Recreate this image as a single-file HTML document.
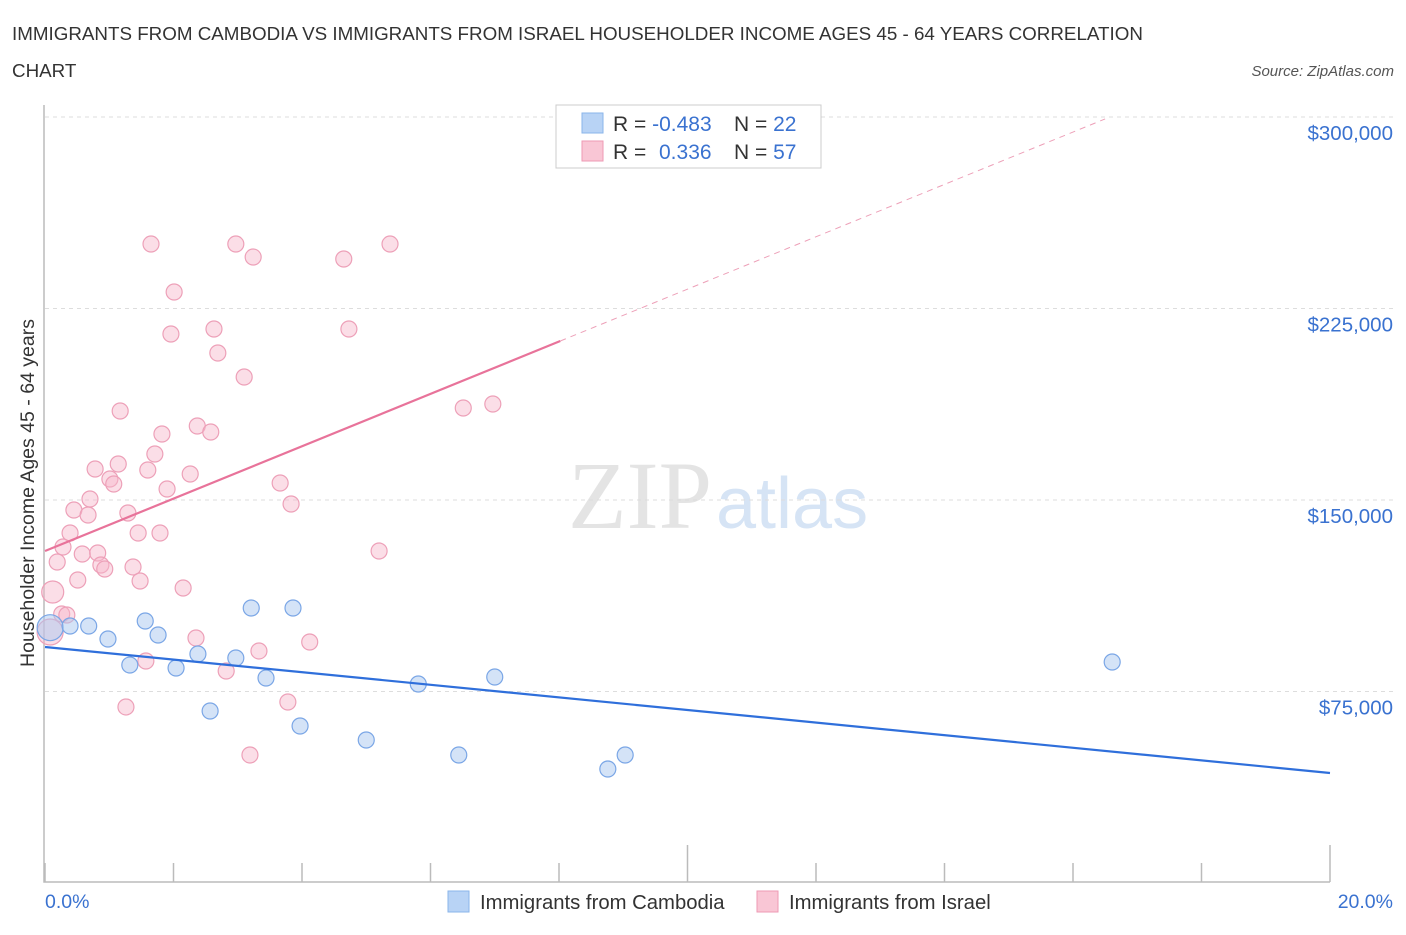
<!DOCTYPE html>
<html><head><meta charset="utf-8"><style>
body{margin:0;background:#fff;font-family:"Liberation Sans",sans-serif;}
svg text{font-family:"Liberation Sans",sans-serif;}
</style></head><body>
<svg id="c" width="1406" height="930" xmlns="http://www.w3.org/2000/svg">
<text x="12" y="40" font-size="18.8" fill="#333">IMMIGRANTS FROM CAMBODIA VS IMMIGRANTS FROM ISRAEL HOUSEHOLDER INCOME AGES 45 - 64 YEARS CORRELATION</text>
<text x="12" y="77" font-size="18.8" fill="#333">CHART</text>
<text x="1394" y="76" font-size="15" fill="#555" font-style="italic" text-anchor="end">Source: ZipAtlas.com</text>
<text x="712" y="528" font-size="96" fill="#e4e4e4" text-anchor="end" style="font-family:'Liberation Serif',serif">ZIP</text>
<text x="716" y="528" font-size="72" fill="#d6e4f5">atlas</text>
<g id="grid"></g><g id="axes"></g><g id="marks"></g>
<g>
<rect x="556" y="105" width="265" height="63" fill="#fff" stroke="#ccc"/>
<rect x="582" y="113" width="21" height="20" fill="#b8d3f5" stroke="#8ab4ea"/>
<rect x="582" y="141" width="21" height="20" fill="#f9c6d5" stroke="#ee9ab4"/>
<text x="613" y="131" font-size="21" fill="#333">R = <tspan fill="#3a72d0">-0.483</tspan></text>
<text x="734" y="131" font-size="21" fill="#333">N = <tspan fill="#3a72d0">22</tspan></text>
<text x="613" y="159" font-size="21" fill="#333">R = <tspan fill="#3a72d0" x="659">0.336</tspan></text>
<text x="734" y="159" font-size="21" fill="#333">N = <tspan fill="#3a72d0">57</tspan></text>
</g>
<g>
<rect x="448" y="891" width="21" height="21" fill="#b8d3f5" stroke="#8ab4ea"/>
<text x="480" y="909" font-size="20.3" fill="#333">Immigrants from Cambodia</text>
<rect x="757" y="891" width="21" height="21" fill="#f9c6d5" stroke="#ee9ab4"/>
<text x="789" y="909" font-size="20.3" fill="#333">Immigrants from Israel</text>
</g>
</svg>
<script>
const yTicks=[75000,150000,225000,300000];
const yTickLabels=["$75,000","$150,000","$225,000","$300,000"];
const xTicks=[0,2,4,6,8,10,12,14,16,18,20];
const camX=[0.08,0.39,0.68,0.98,1.32,1.56,1.76,2.04,2.38,2.57,2.97,3.21,3.44,3.86,3.97,5.00,5.81,6.44,7.00,8.76,9.03,16.61];
const camY=[100000,100650,100650,95560,85380,102610,97130,84210,89690,67370,88120,107700,80290,107700,61490,56010,77940,50130,80680,44650,50130,86560];
const isrX=[0.08,0.12,0.19,0.26,0.28,0.34,0.39,0.45,0.51,0.58,0.67,0.70,0.78,0.82,0.87,0.93,1.01,1.07,1.14,1.17,1.26,1.29,1.37,1.45,1.48,1.57,1.60,1.65,1.71,1.79,1.82,1.90,1.96,2.01,2.15,2.26,2.35,2.37,2.58,2.63,2.69,2.82,2.97,3.10,3.19,3.24,3.33,3.66,3.78,3.83,4.12,4.65,4.73,5.20,5.37,6.51,6.97];
const isrY=[98300,113970,125720,105360,131590,104960,137080,146080,118670,128850,144130,150390,162140,129240,124540,122980,158220,156270,164100,184850,68940,144910,123760,137080,118280,86950,161750,250250,168010,137080,175850,154310,215010,231460,115540,160180,95960,178980,176630,216970,207570,83030,250250,198170,50140,245160,90870,156660,70890,148430,94390,244380,216970,130030,250250,186030,187600];
const camLine=[92430,43090];
const isrLine=[130030,10255];
const X=v=>45+v*64.25;
const Y=v=>500-(v-150000)*191.5/75000;
const NS="http://www.w3.org/2000/svg";
function mk(p,t,a){const e=document.createElementNS(NS,t);for(const k in a)e.setAttribute(k,a[k]);p.appendChild(e);return e;}
const grid=document.getElementById('grid'),axes=document.getElementById('axes'),marks=document.getElementById('marks');
yTicks.forEach((v,i)=>{
 const l=mk(grid,'line',{x1:45,x2:1394,y1:Y(v),y2:Y(v),stroke:'#ddd','stroke-dasharray':'4,4'});
 
 
 const t=mk(axes,'text',{x:1393,y:Y(v)+23,'font-size':20.5,fill:'#3a72d0','text-anchor':'end'});
 t.textContent=yTickLabels[i];
 
 
});
const ax=mk(axes,'path',{d:'M44 105 V882 H1330',stroke:'#bbb',fill:'none','stroke-width':1.5});


xTicks.forEach(v=>{
 const top=(v==10||v==20)?845:863;
 const t=mk(axes,'line',{x1:X(v),x2:X(v),y1:top,y2:882,stroke:'#bbb','stroke-width':1.5});
 
 
});
const xl0=mk(axes,'text',{x:45,y:908,'font-size':19.5,fill:'#3a72d0'});xl0.textContent='0.0%';


const xl1=mk(axes,'text',{x:1393,y:908,'font-size':19.5,fill:'#3a72d0','text-anchor':'end'});xl1.textContent='20.0%';


const yt=mk(axes,'text',{x:0,y:0,'font-size':19.5,fill:'#333','text-anchor':'middle',transform:'translate(34,493) rotate(-90)'});yt.textContent='Householder Income Ages 45 - 64 years';


isrX.forEach((x,i)=>{
 const r=i==0?13:(i==1?11:8);
 const c=mk(marks,'circle',{cx:X(x),cy:Y(isrY[i]),r:r,fill:'rgba(247,182,202,0.45)',stroke:'#eda0b8','stroke-width':1.2});
 
 
});
camX.forEach((x,i)=>{
 const r=i==0?13:8;
 const c=mk(marks,'circle',{cx:X(x),cy:Y(camY[i]),r:r,fill:'rgba(170,200,240,0.5)',stroke:'#7aa6e6','stroke-width':1.2});
 
 
});
const bl=mk(marks,'line',{x1:X(0),y1:Y(camLine[0]),x2:X(20),y2:Y(camLine[1]),stroke:'#2f6fdb','stroke-width':2.2});


const pl=mk(marks,'line',{x1:X(0),y1:Y(isrLine[0]),x2:X(8.02),y2:Y(isrLine[0]+isrLine[1]*8.02),stroke:'#e8739a','stroke-width':2.2});


const pd=mk(marks,'line',{x1:X(8.02),y1:Y(isrLine[0]+isrLine[1]*8.02),x2:X(16.5),y2:Y(isrLine[0]+isrLine[1]*16.5),stroke:'#eda0b8','stroke-width':1,'stroke-dasharray':'6,5'});


</script>
</body></html>
